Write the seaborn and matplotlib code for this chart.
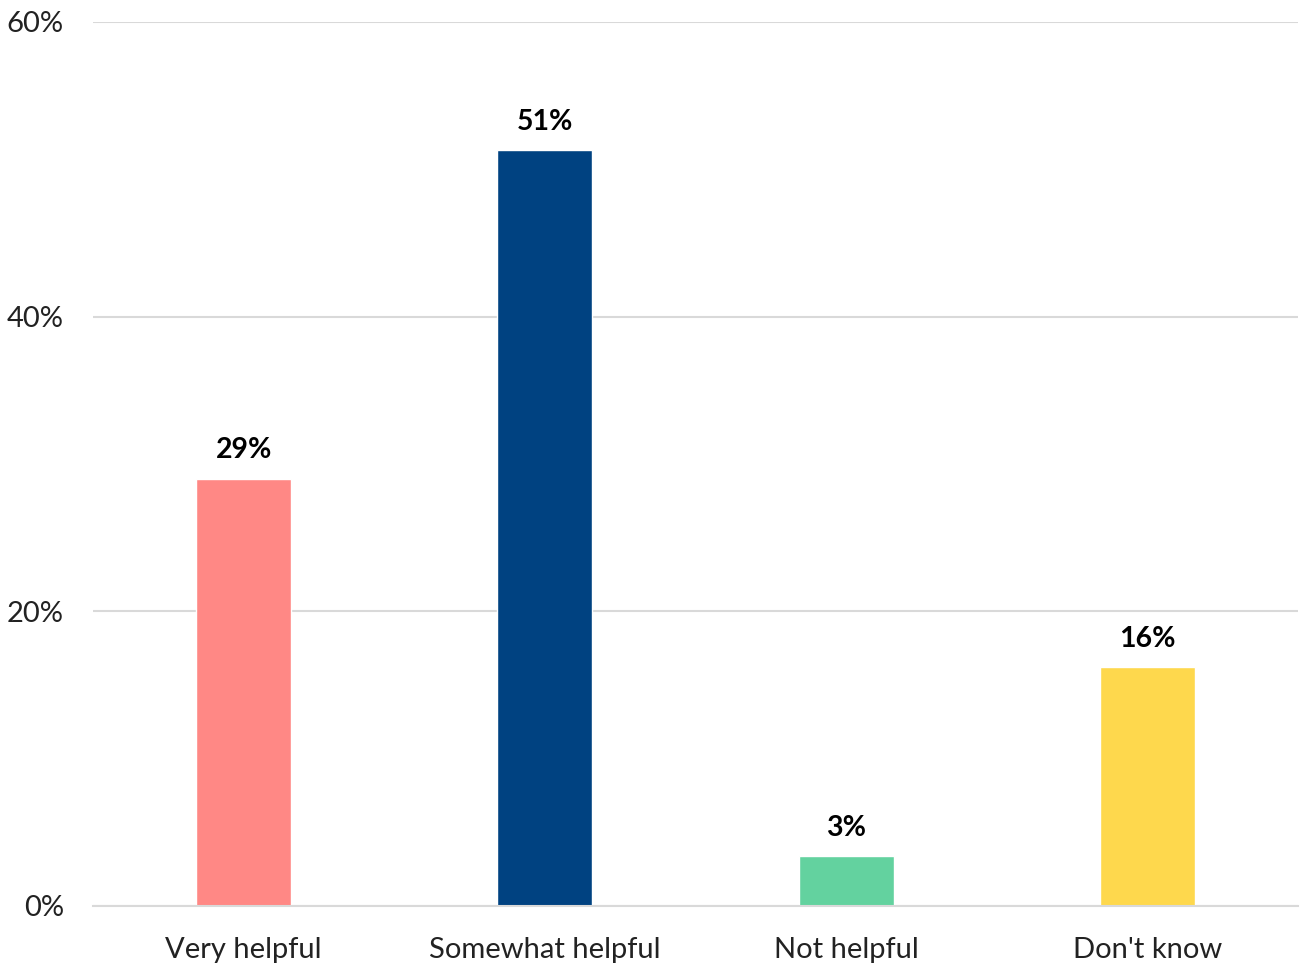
import matplotlib
matplotlib.use("Agg")
import matplotlib.pyplot as plt
import seaborn as sns
import pandas as pd

categories = ["Very helpful", "Somewhat helpful", "Not helpful", "Don't know"]
values = [29.0, 51.3, 3.4, 16.2]
labels = ["29%", "51%", "3%", "16%"]
colors = ["#FF8885", "#004281", "#63D29F", "#FED84D"]
yticks = [0, 20, 40, 60]
ytick_labels = ["0%", "20%", "40%", "60%"]

sns.set_style("white")
plt.rcParams['font.family'] = ['Lato', 'DejaVu Sans']

df = pd.DataFrame({"cat": categories, "val": values})

fig = plt.figure(figsize=(13.04, 9.63), dpi=100)
ax = fig.add_axes([0.0713, 0.0592, 0.9241, 0.918])
sns.barplot(data=df, x="cat", y="val", hue="cat", palette=colors, width=0.315,
            legend=False, ax=ax, saturation=1)

ax.set_ylim(0, 60)
ax.set_xlim(-0.5, 3.5)
ax.set_yticks(yticks)
ax.set_yticklabels(ytick_labels)
ax.grid(axis="y", color="#D9D9D9", linewidth=1.5)
ax.set_axisbelow(True)
for s in ["top", "right", "left"]:
    ax.spines[s].set_visible(False)
ax.spines["bottom"].set_color("#D9D9D9")
ax.spines["bottom"].set_linewidth(1.5)
ax.tick_params(axis="y", length=0, pad=21, labelsize=21, labelcolor="#222222")
ax.tick_params(axis="x", length=0, pad=22, labelsize=21, labelcolor="#222222")
ax.set_xlabel("")
ax.set_ylabel("")

for i, (v, lab) in enumerate(zip(values, labels)):
    ax.annotate(lab, (i, v), xytext=(0, 11), textcoords="offset points",
                ha="center", va="bottom", fontsize=20.5, fontweight="bold", color="black")

fig.savefig("out.png", dpi=100)
